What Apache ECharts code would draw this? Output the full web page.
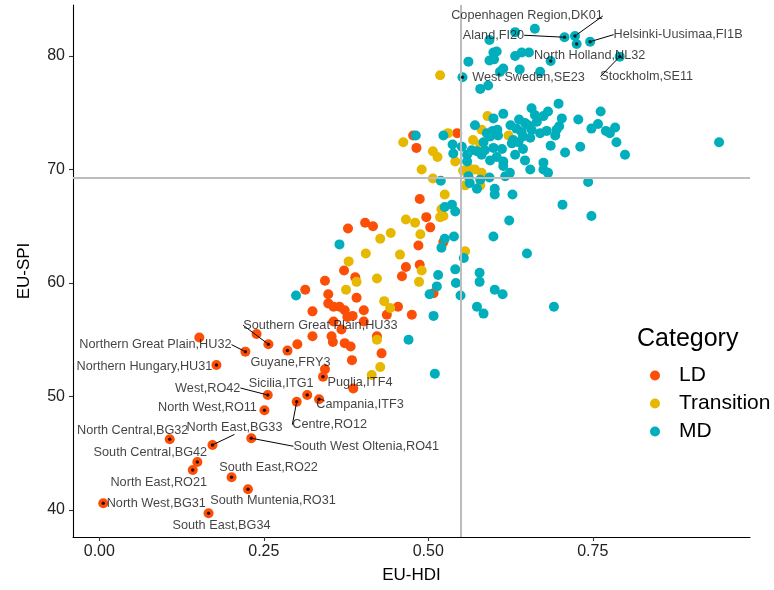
<!DOCTYPE html>
<html><head><meta charset="utf-8">
<script src="https://cdn.jsdelivr.net/npm/echarts@6/dist/echarts.min.js"></script>
<style>html,body{margin:0;padding:0;background:#fff}#c{width:774px;height:590px}</style>
</head><body><div id="c"></div>
<script>
// ---------------- DATA ----------------
const categories = ['LD', 'Transition', 'MD'];
const xTicks = [0, 0.25, 0.5, 0.75];
const yTicks = [40, 50, 60, 70, 80];
const hdiMean = 0.554;
const spiMean = 69.28;

// LD regions (EU-HDI, EU-SPI)
const ldPoints = [
[0.152,55.2],[0.239,55.5],[0.313,59.4],[0.343,60.2],[0.378,64.8],[0.372,61.1],[0.389,60.5],[0.391,58.7],
[0.348,59.0],[0.348,58.2],[0.356,57.9],[0.365,57.9],[0.373,57.6],[0.377,57.0],[0.385,57.1],[0.324,57.5],
[0.356,56.6],[0.368,55.9],[0.324,55.3],[0.301,54.6],[0.353,55.3],[0.355,54.8],[0.373,54.7],[0.382,54.4],
[0.384,53.2],[0.402,57.6],[0.402,56.6],[0.422,55.3],[0.404,65.3],[0.416,65.0],[0.343,52.4],[0.386,50.7],
[0.429,53.8],[0.544,73.2],[0.477,73.0],[0.482,71.9],[0.487,67.4],[0.497,65.8],[0.503,64.9],[0.523,63.6],
[0.485,63.3],[0.466,61.4],[0.460,60.6],[0.487,61.6],[0.508,59.1],[0.454,57.9],[0.437,57.2],[0.475,57.2]
];
const ldLabeled = [
[0.222,53.95,'Northern Great Plain,HU32'],
[0.178,52.77,'Northern Hungary,HU31'],
[0.256,50.13,'West,RO42'],
[0.251,48.78,'North West,RO11'],
[0.257,54.60,'Southern Great Plain,HU33'],
[0.286,54.04,'Guyane,FRY3'],
[0.316,50.13,'Sicilia,ITG1'],
[0.334,49.75,'Campania,ITF3'],
[0.340,51.74,'Puglia,ITF4'],
[0.300,49.54,'Centre,RO12'],
[0.107,46.23,'North Central,BG32'],
[0.172,45.73,'North East,BG33'],
[0.231,46.32,'South West Oltenia,RO41'],
[0.149,44.23,'South Central,BG42'],
[0.142,43.52,'North East,RO21'],
[0.201,42.88,'South East,RO22'],
[0.226,41.82,'South Muntenia,RO31'],
[0.006,40.59,'North West,BG31'],
[0.166,39.71,'South East,BG34']
];

// Transition regions
const trPoints = [
[0.518,78.3],[0.590,74.7],[0.581,73.5],[0.530,73.2],[0.622,73.0],[0.462,72.4],[0.568,72.6],[0.579,72.2],
[0.507,71.6],[0.514,71.1],[0.541,70.7],[0.490,70.0],[0.507,69.2],[0.553,69.9],[0.562,70.1],[0.571,70.0],
[0.581,69.7],[0.556,68.6],[0.579,68.6],[0.525,67.8],[0.520,66.5],[0.518,65.8],[0.523,65.9],[0.466,65.6],
[0.480,65.3],[0.488,64.3],[0.443,64.4],[0.427,63.9],[0.556,62.8],[0.457,62.5],[0.490,61.1],[0.486,60.1],
[0.433,58.4],[0.442,57.8],[0.379,61.9],[0.391,60.1],[0.375,59.4],[0.405,62.6],[0.422,60.4],[0.422,55.0],
[0.414,51.9],[0.427,52.6]
];
const trLabeled = [];

// MD regions
const mdPoints = [
[0.662,82.4],[0.632,82.1],[0.593,81.4],[0.604,80.4],[0.599,80.3],[0.600,79.7],[0.593,79.6],[0.632,80.0],
[0.642,80.3],[0.653,80.3],[0.561,79.5],[0.614,78.9],[0.609,78.6],[0.639,78.8],[0.670,78.6],[0.591,77.4],
[0.579,77.1],[0.698,75.8],[0.657,75.4],[0.762,75.1],[0.614,74.9],[0.599,74.5],[0.662,74.8],[0.675,74.7],
[0.682,75.1],[0.638,74.4],[0.647,74.1],[0.652,73.9],[0.665,74.2],[0.703,74.5],[0.728,74.4],[0.758,74.0],
[0.748,73.6],[0.770,73.4],[0.784,73.7],[0.776,73.2],[0.625,73.9],[0.571,73.9],[0.598,73.4],[0.605,73.5],
[0.634,73.6],[0.642,73.3],[0.657,73.5],[0.670,73.2],[0.680,73.4],[0.695,73.5],[0.699,73.8],[0.693,73.0],
[0.523,73.0],[0.589,73.2],[0.594,72.9],[0.606,73.0],[0.629,72.6],[0.644,72.9],[0.655,72.8],[0.481,73.0],
[0.537,72.2],[0.551,72.0],[0.584,72.4],[0.566,71.7],[0.574,71.6],[0.586,71.7],[0.599,71.9],[0.612,71.8],
[0.627,72.3],[0.637,72.4],[0.644,71.8],[0.686,72.1],[0.731,72.0],[0.708,71.5],[0.786,72.4],[0.799,71.3],
[0.942,72.4],[0.538,71.4],[0.559,71.3],[0.559,70.7],[0.581,71.3],[0.594,70.8],[0.604,71.1],[0.614,70.7],
[0.614,70.3],[0.632,71.3],[0.647,70.8],[0.675,70.6],[0.519,69.0],[0.561,69.4],[0.579,69.1],[0.593,69.3],
[0.617,69.4],[0.624,69.7],[0.655,70.0],[0.675,70.0],[0.682,69.7],[0.574,68.3],[0.563,68.8],[0.601,68.3],
[0.601,67.8],[0.628,67.8],[0.743,68.9],[0.525,66.7],[0.536,66.9],[0.541,66.3],[0.704,66.9],[0.748,65.9],
[0.623,65.5],[0.599,64.1],[0.525,63.9],[0.539,64.1],[0.520,63.1],[0.650,62.6],[0.554,62.2],[0.541,61.2],
[0.578,60.9],[0.578,60.1],[0.542,60.0],[0.515,60.7],[0.513,59.7],[0.502,59.0],[0.549,58.9],[0.601,59.4],
[0.613,59.0],[0.691,57.9],[0.574,57.9],[0.584,57.3],[0.508,57.1],[0.470,55.0],[0.510,52.0],[0.299,58.9],
[0.365,63.4]
];
const mdLabeled = [
[0.707,81.65,'Aland,FI20'],
[0.723,81.76,'Copenhagen Region,DK01'],
[0.7255,81.06,''],
[0.746,81.26,'Helsinki-Uusimaa,FI1B'],
[0.686,79.56,'North Holland,NL32'],
[0.791,79.94,'Stockholm,SE11'],
[0.552,78.12,'West Sweden,SE23']
];

// ---------------- STYLE ----------------
const colors = {LD: '#FC4E07', Transition: '#E7B800', MD: '#00AFBB'};
const FONT = '"Liberation Sans", Arial, sans-serif';
// label placement offsets (px from point) — repel-style layout
const labelOffsets = {
'Copenhagen Region,DK01': [-48,-20], 'Aland,FI20': [-71,-2], 'Helsinki-Uusimaa,FI1B': [88,-7],
'North Holland,NL32': [39,-5], 'Stockholm,SE11': [27,20], 'West Sweden,SE23': [66,0],
'Northern Great Plain,HU32': [-90,-7], 'Northern Hungary,HU31': [-72,1], 'West,RO42': [-60,-7],
'North West,RO11': [-57,-3], 'Southern Great Plain,HU33': [52,-19], 'Guyane,FRY3': [3,12],
'Sicilia,ITG1': [-26,-12], 'Campania,ITF3': [41,5], 'Puglia,ITF4': [37,6], 'Centre,RO12': [33,23],
'North Central,BG32': [-37,-9], 'North East,BG33': [22,-17], 'South West Oltenia,RO41': [115,8],
'South Central,BG42': [-47,-9], 'North East,RO21': [-34,12], 'South East,RO22': [37,-10],
'South Muntenia,RO31': [25,11], 'North West,BG31': [53,0], 'South East,BG34': [13,12]
};
const noLine = new Set(['North Holland,NL32','West Sweden,SE23','Northern Hungary,HU31','North West,RO11',
'Guyane,FRY3','Sicilia,ITG1','Campania,ITF3','Puglia,ITF4','North Central,BG32','South Central,BG42',
'North East,RO21','South East,RO22','South Muntenia,RO31','North West,BG31','South East,BG34','']);

const chart = echarts.init(document.getElementById('c'), null, {renderer: 'canvas'});

function catSeries(name, pts, labeled) {
  return {
    type: 'scatter', name: name, z: 2, silent: true,
    data: pts.concat(labeled.map(p => [p[0], p[1]])),
    symbolSize: 10,
    itemStyle: {color: colors[name], opacity: 1}
  };
}
const allLabeled = ldLabeled.concat(trLabeled, mdLabeled);

const option = {
  animation: false,
  backgroundColor: '#ffffff',
  textStyle: {fontFamily: FONT},
  grid: {left: 73, right: 24, top: 5, bottom: 53, containLabel: false},
  title: {
    text: 'Category', left: 637, top: 327, padding: 0,
    textStyle: {fontSize: 25, fontWeight: 'normal', color: '#000', fontFamily: FONT}
  },
  legend: {
    data: categories, orient: 'vertical', left: 645, top: 360,
    itemWidth: 10, itemHeight: 10, icon: 'circle', itemGap: 7,
    textStyle: {fontSize: 21, color: '#000', fontFamily: FONT, lineHeight: 21, padding: [0, 0, 0, 14]},
    selectedMode: false
  },
  xAxis: {
    type: 'value', min: -0.040, max: 0.989,
    name: 'EU-HDI', nameLocation: 'middle', nameGap: 30,
    nameTextStyle: {fontSize: 17, color: '#000', fontFamily: FONT},
    axisLine: {show: true, onZero: false, lineStyle: {color: '#000', width: 1.1}},
    axisTick: {show: true, length: 4, customValues: xTicks, lineStyle: {color: '#333', width: 1.1}},
    axisLabel: {customValues: xTicks, formatter: v => v.toFixed(2), fontSize: 16, color: '#222', margin: 7, fontFamily: FONT},
    splitLine: {show: false}
  },
  yAxis: {
    type: 'value', min: 37.62, max: 84.49,
    name: 'EU-SPI', nameLocation: 'middle', nameGap: 40,
    nameTextStyle: {fontSize: 17, color: '#000', fontFamily: FONT},
    axisLine: {show: true, onZero: false, lineStyle: {color: '#000', width: 1.1}},
    axisTick: {show: true, length: 4, customValues: yTicks, lineStyle: {color: '#333', width: 1.1}},
    axisLabel: {customValues: yTicks, fontSize: 16, color: '#222', margin: 8, fontFamily: FONT},
    splitLine: {show: false}
  },
  series: [
    catSeries('LD', ldPoints, ldLabeled),
    catSeries('Transition', trPoints, trLabeled),
    catSeries('MD', mdPoints, mdLabeled),
    {
      type: 'scatter', name: 'refLines', data: [], silent: true, z: 5,
      markLine: {
        silent: true, symbol: 'none', animation: false,
        label: {show: false},
        lineStyle: {color: '#bdbdbd', width: 2, type: 'solid'},
        data: [{xAxis: hdiMean}, {yAxis: spiMean}]
      }
    },
    {
      type: 'scatter', name: 'labels', z: 6, silent: true,
      symbolSize: 3.5, itemStyle: {color: '#000'},
      data: allLabeled.map(p => ({
        value: [p[0], p[1]], name: p[2],
        label: {show: p[2] !== ''},
        labelLine: {show: !noLine.has(p[2])}
      })),
      label: {show: true, formatter: p => p.name, fontSize: 12.7, color: '#111', fontFamily: FONT, position: 'inside'},
      labelLine: {show: true, lineStyle: {color: '#000', width: 1}},
      labelLayout: function (params) {
        const p = allLabeled[params.dataIndex];
        const off = labelOffsets[p[2]] || [0, 0];
        const cx = params.rect.x + params.rect.width / 2;
        const cy = params.rect.y + params.rect.height / 2;
        return {x: cx + off[0], y: cy + off[1], align: 'center', verticalAlign: 'middle', hideOverlap: false};
      }
    }
  ]
};
chart.setOption(option);
</script>
</body></html>
